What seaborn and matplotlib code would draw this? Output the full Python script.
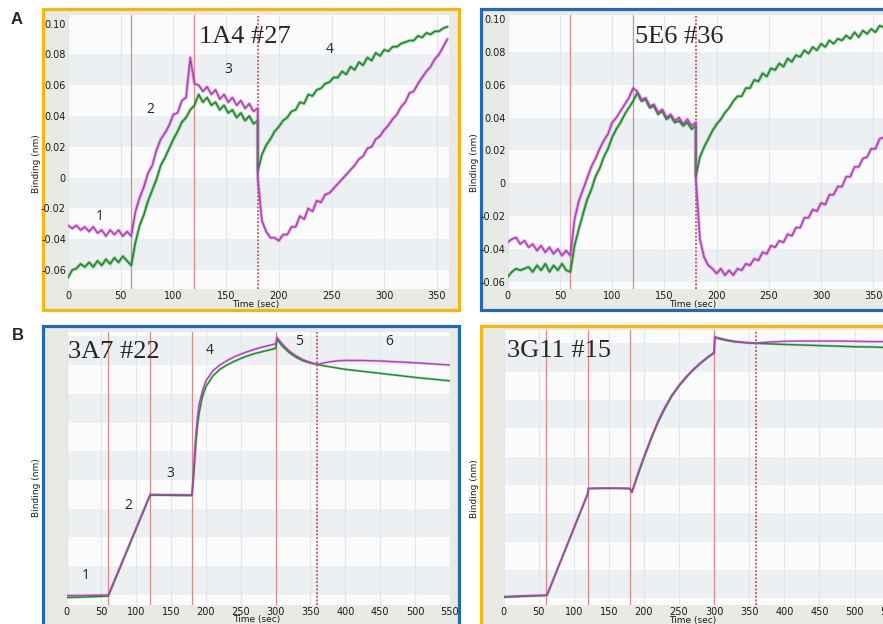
import matplotlib.pyplot as plt
import matplotlib.patches as mpatches
import matplotlib.ticker as mticker
import pandas as pd
import seaborn as sns

# colours
MAGENTA = "#b540b6"
GREEN = "#1f8a2c"
YELLOW = "#f6b60f"
BLUE = "#2369b4"
MARGIN = "#e9e9e5"
BAND = "#edf0f3"
PLAIN = "#fbfbfc"
GRID = "#e1e6eb"
STEP_LINE = "#d98a8c"
STEP_DOT = "#c8323a"

# ---- panel A: sample times (step at 180 s appears twice) ----
t_a = list(range(0, 181, 4)) + list(range(180, 361, 4))

# 1A4 #27
a1_magenta = [
    -0.031, -0.033, -0.031, -0.034, -0.032, -0.035, -0.032, -0.036, -0.034, -0.038, -0.034, -0.037, -0.034, -0.038, -0.035, -0.038,
    -0.022, -0.013, -0.006, 0.003, 0.008, 0.018, 0.025, 0.029, 0.034, 0.041, 0.042, 0.050, 0.052, 0.078, 0.061,
    0.060, 0.056, 0.059, 0.054, 0.057, 0.051, 0.054, 0.049, 0.052, 0.047, 0.050, 0.045, 0.048, 0.043, 0.045,
    0.000, -0.028, -0.035, -0.039, -0.039, -0.041, -0.037, -0.037, -0.032, -0.032,
    -0.025, -0.027, -0.020, -0.022, -0.015, -0.016, -0.011, -0.010, -0.007, -0.004,
    -0.001, 0.002, 0.005, 0.008, 0.012, 0.014, 0.019, 0.020, 0.025, 0.027,
    0.031, 0.034, 0.038, 0.041, 0.046, 0.049, 0.055, 0.056, 0.061, 0.065,
    0.069, 0.072, 0.077, 0.080, 0.085, 0.090,
]
a1_green = [
    -0.065, -0.060, -0.059, -0.056, -0.058, -0.055, -0.058, -0.054, -0.057, -0.053, -0.056, -0.052, -0.055, -0.051, -0.054, -0.057,
    -0.042, -0.031, -0.024, -0.015, -0.008, -0.001, 0.008, 0.013, 0.019, 0.025, 0.030, 0.036, 0.039, 0.044, 0.047,
    0.054, 0.049, 0.052, 0.047, 0.049, 0.044, 0.047, 0.042, 0.044, 0.039, 0.042, 0.037, 0.040, 0.035, 0.037,
    0.004, 0.015, 0.021, 0.025, 0.030, 0.033, 0.037, 0.039, 0.043, 0.044,
    0.049, 0.048, 0.054, 0.053, 0.057, 0.058, 0.061, 0.062, 0.065, 0.065,
    0.069, 0.067, 0.072, 0.070, 0.075, 0.073, 0.078, 0.076, 0.081, 0.079,
    0.083, 0.082, 0.085, 0.085, 0.087, 0.088, 0.089, 0.089, 0.092, 0.091,
    0.094, 0.093, 0.095, 0.095, 0.097, 0.098,
]

# 5E6 #36
a2_magenta = [
    -0.036, -0.034, -0.033, -0.037, -0.035, -0.039, -0.037, -0.041, -0.038, -0.042, -0.039, -0.043, -0.040, -0.044, -0.041, -0.044,
    -0.022, -0.011, -0.004, 0.003, 0.010, 0.015, 0.021, 0.026, 0.030, 0.037, 0.040, 0.044, 0.048, 0.052, 0.058,
    0.056, 0.051, 0.052, 0.047, 0.048, 0.043, 0.045, 0.040, 0.042, 0.038, 0.040, 0.036, 0.039, 0.035, 0.037,
    0.004, -0.034, -0.045, -0.050, -0.052, -0.055, -0.052, -0.056, -0.053, -0.056,
    -0.052, -0.053, -0.049, -0.050, -0.046, -0.047, -0.042, -0.043, -0.038, -0.039,
    -0.035, -0.036, -0.031, -0.032, -0.027, -0.027, -0.021, -0.021, -0.016, -0.017,
    -0.012, -0.013, -0.007, -0.007, -0.002, -0.002, 0.004, 0.004, 0.010, 0.010,
    0.015, 0.016, 0.021, 0.021, 0.027, 0.028,
]
a2_green = [
    -0.057, -0.054, -0.052, -0.053, -0.052, -0.051, -0.054, -0.050, -0.053, -0.049, -0.054, -0.050, -0.053, -0.049, -0.053, -0.054,
    -0.038, -0.028, -0.019, -0.010, -0.004, 0.004, 0.009, 0.016, 0.021, 0.028, 0.033, 0.037, 0.042, 0.046, 0.050,
    0.055, 0.050, 0.051, 0.046, 0.047, 0.042, 0.044, 0.039, 0.041, 0.037, 0.038, 0.035, 0.037, 0.033, 0.035,
    0.004, 0.016, 0.022, 0.027, 0.032, 0.036, 0.039, 0.043, 0.046, 0.050,
    0.053, 0.053, 0.058, 0.058, 0.063, 0.062, 0.067, 0.065, 0.070, 0.069,
    0.073, 0.071, 0.076, 0.074, 0.078, 0.077, 0.081, 0.079, 0.083, 0.081,
    0.085, 0.083, 0.087, 0.085, 0.088, 0.087, 0.090, 0.088, 0.092, 0.089,
    0.093, 0.091, 0.094, 0.092, 0.096, 0.095,
]

# ---- panel B ----
# 3A7 #22
t_b1 = [0, 20, 40, 60, 120, 140, 160, 180, 182, 184, 186, 188, 190, 195, 200,
        210, 220, 230, 240, 250, 260, 270, 280, 290, 300, 302, 310, 320, 330,
        340, 350, 360, 370, 380, 390, 400, 425, 450, 475, 500, 525, 550]
b1_magenta = [-0.002, -0.002, -0.001, 0.000, 0.350, 0.349, 0.349, 0.348, 0.42, 0.50,
              0.57, 0.62, 0.66, 0.71, 0.745, 0.78, 0.80, 0.815, 0.828, 0.838, 0.847,
              0.855, 0.862, 0.868, 0.874, 0.896, 0.872, 0.848, 0.831, 0.818, 0.809,
              0.802, 0.808, 0.812, 0.815, 0.816, 0.816, 0.814, 0.811, 0.808, 0.804, 0.800]
b1_green = [-0.009, -0.008, -0.006, -0.004, 0.347, 0.347, 0.346, 0.346, 0.40, 0.47,
            0.54, 0.59, 0.63, 0.69, 0.725, 0.762, 0.785, 0.800, 0.812, 0.823, 0.832,
            0.840, 0.846, 0.852, 0.858, 0.889, 0.865, 0.842, 0.826, 0.814, 0.807,
            0.802, 0.797, 0.793, 0.789, 0.785, 0.778, 0.771, 0.764, 0.757, 0.751, 0.745]

# 3G11 #15
t_b2 = [0, 20, 40, 60, 62, 120, 121, 140, 160, 180, 183, 190, 200, 210, 220, 230,
        240, 250, 260, 270, 280, 290, 300, 301, 310, 320, 330, 340, 350, 360, 380,
        400, 425, 450, 475, 500, 525, 550]
b2_magenta = [0.006, 0.008, 0.010, 0.011, 0.012, 0.370, 0.388, 0.389, 0.389, 0.388,
              0.376, 0.43, 0.50, 0.565, 0.625, 0.675, 0.718, 0.752, 0.782, 0.807,
              0.830, 0.850, 0.868, 0.923, 0.917, 0.911, 0.907, 0.904, 0.902, 0.901,
              0.905, 0.907, 0.908, 0.908, 0.908, 0.907, 0.906, 0.906]
b2_green = [0.004, 0.006, 0.008, 0.010, 0.011, 0.368, 0.387, 0.388, 0.388, 0.387,
            0.374, 0.425, 0.495, 0.56, 0.62, 0.67, 0.714, 0.749, 0.779, 0.805,
            0.828, 0.848, 0.866, 0.920, 0.914, 0.909, 0.905, 0.903, 0.901, 0.900,
            0.898, 0.896, 0.894, 0.892, 0.890, 0.888, 0.887, 0.885]

a_yticks = [-0.06, -0.04, -0.02, 0, 0.02, 0.04, 0.06, 0.08, 0.10]
a_ylabels = ["-0.06", "-0.04", "-0.02", "0", "0.02", "0.04", "0.06", "0.08", "0.10"]
b_yticks = [0, 0.1, 0.2, 0.3, 0.4, 0.5, 0.6, 0.7, 0.8, 0.9]

W, H = 883, 624

sns.set_style("white")
plt.rcParams["font.family"] = ["DejaVu Sans"]

fig = plt.figure(figsize=(W / 100, H / 100), dpi=100)
fig.patch.set_facecolor("white")


def px_rect(x0, y0, x1, y1):
    return [x0 / W, 1 - y1 / H, (x1 - x0) / W, (y1 - y0) / H]


def draw_panel(spec, times, magenta, green):
    # framed screenshot background
    bx0, by0, bx1, by1 = spec["border"]
    fig.add_artist(mpatches.Rectangle(
        (bx0 / W, 1 - by1 / H), (bx1 - bx0) / W, (by1 - by0) / H,
        transform=fig.transFigure, facecolor=MARGIN, edgecolor=spec["edge"],
        lw=2.3, zorder=-1))

    ax = fig.add_axes(px_rect(*spec["axes"]))
    ax.set_facecolor(PLAIN)
    ax.set_xlim(*spec["xlim"])
    ax.set_ylim(*spec["ylim"])
    for lo, hi in spec["bands"]:
        ax.axhspan(lo, hi, color=BAND, lw=0, zorder=0)
    for t in spec["xticks"]:
        ax.axvline(t, color=GRID, lw=0.8, zorder=0.5)

    # assay step boundaries
    for t in spec["steps"][:-1]:
        ax.axvline(t, color=STEP_LINE, lw=0.9, zorder=1)
    ax.axvline(spec["steps"][-1], color=STEP_DOT, lw=1.1, ls=(0, (1.2, 1.2)), zorder=1)

    df = pd.DataFrame({
        "time": list(times) * 2,
        "binding": list(green) + list(magenta),
        "sensor": ["green"] * len(green) + ["magenta"] * len(magenta),
    })
    pal = {"green": GREEN, "magenta": MAGENTA}
    for lw, alpha in [(spec["halo"], 0.3), (spec["lw"], 1.0)]:
        sns.lineplot(data=df, x="time", y="binding", hue="sensor",
                     hue_order=["green", "magenta"], palette=pal,
                     estimator=None, sort=False, legend=False,
                     lw=lw, alpha=alpha, ax=ax)

    ax.set_xticks(spec["xticks"])
    ax.xaxis.set_minor_locator(mticker.MultipleLocator(10))
    ax.set_yticks(spec["yticks"])
    ax.set_yticklabels(spec["ylabels"])
    ax.yaxis.set_minor_locator(mticker.MultipleLocator(spec["yminor"]))
    ax.tick_params(which="both", direction="in", color="#a0a6ac",
                   labelsize=7, pad=1.5, labelcolor="#1a1a1a")
    ax.tick_params(which="major", length=3)
    ax.tick_params(which="minor", length=1.5)
    for s in ax.spines.values():
        s.set_visible(False)

    ax.set_xlabel("Time (sec)", fontsize=6.5, color="#1a1a1a")
    ax.xaxis.set_label_coords(*spec["xlab"])
    ax.set_ylabel("Binding (nm)", fontsize=6.5, color="#1a1a1a")
    ax.yaxis.set_label_coords(*spec["ylab"])

    ax.text(*spec["name_pos"], spec["name"], fontsize=19,
            family="Liberation Serif", ha="left", va="baseline", zorder=5)
    for lab, (tx, ty) in spec["phases"]:
        ax.text(tx, ty, lab, fontsize=10, family="Open Sans",
                ha="center", va="center", zorder=5)
    return ax


a_bands = [(0.06, 0.08), (0.02, 0.04), (-0.02, 0), (-0.06, -0.04)]
b_bands = [(0, 0.1), (0.2, 0.3), (0.4, 0.5), (0.6, 0.7), (0.8, 0.9)]

draw_panel(dict(
    border=(43, 9, 458.5, 310), edge=YELLOW, axes=(68, 15, 448.5, 289),
    xlim=(0, 361), ylim=(-0.0723, 0.1056), bands=a_bands,
    xticks=list(range(0, 351, 50)), yticks=a_yticks, ylabels=a_ylabels, yminor=0.005,
    steps=[60, 120, 180], lw=1.2, halo=2.6,
    xlab=(0.494, -0.04), ylab=(-0.071, 0.456),
    name="1A4 #27", name_pos=(124.3, 0.0875),
    phases=[("1", (30.4, -0.025)), ("2", (77.8, 0.0444)),
            ("3", (152.5, 0.070)), ("4", (248.6, 0.0834))],
), t_a, a1_magenta, a1_green)

draw_panel(dict(
    border=(481, 9, 900, 310), edge=BLUE, axes=(507.7, 15, 884.8, 289),
    xlim=(0, 361), ylim=(-0.0644, 0.1025), bands=a_bands,
    xticks=list(range(0, 351, 50)), yticks=a_yticks, ylabels=a_ylabels, yminor=0.005,
    steps=[60, 120, 180], lw=1.2, halo=2.6,
    xlab=(0.49, -0.04), ylab=(-0.076, 0.46),
    name="5E6 #36", name_pos=(121.9, 0.0856), phases=[],
), t_a, a2_magenta, a2_green)

draw_panel(dict(
    border=(43, 326, 458.5, 640), edge=BLUE, axes=(66.5, 332, 449.9, 605),
    xlim=(0, 550), ylim=(-0.035, 0.915), bands=b_bands,
    xticks=list(range(0, 551, 50)), yticks=b_yticks, ylabels=[""] * 10, yminor=0.05,
    steps=[60, 120, 180, 300, 360], lw=1.0, halo=1.8,
    xlab=(0.496, -0.037), ylab=(-0.0665, 0.43),
    name="3A7 #22", name_pos=(2.6, 0.826),
    phases=[("1", (27.9, 0.066)), ("2", (88.3, 0.311)), ("3", (148.8, 0.423)),
            ("4", (206, 0.850)), ("5", (333.6, 0.882)), ("6", (463, 0.882))],
), t_b1, b1_magenta, b1_green)

draw_panel(dict(
    border=(481, 326, 900, 640), edge=YELLOW, axes=(503.5, 330, 889.6, 605),
    xlim=(0, 550), ylim=(-0.0236, 0.947), bands=b_bands,
    xticks=list(range(0, 551, 50)), yticks=b_yticks, ylabels=[""] * 10, yminor=0.05,
    steps=[60, 120, 180, 300, 360], lw=1.0, halo=1.8,
    xlab=(0.49, -0.04), ylab=(-0.063, 0.425),
    name="3G11 #15", name_pos=(4.6, 0.853), phases=[],
), t_b2, b2_magenta, b2_green)

fig.text(17 / W, 1 - 19 / H, "A", fontsize=12, weight="bold",
         family="Liberation Sans", ha="center", va="center")
fig.text(18 / W, 1 - 335 / H, "B", fontsize=12, weight="bold",
         family="Liberation Sans", ha="center", va="center")

fig.savefig("out.png", dpi=100, facecolor="white")
